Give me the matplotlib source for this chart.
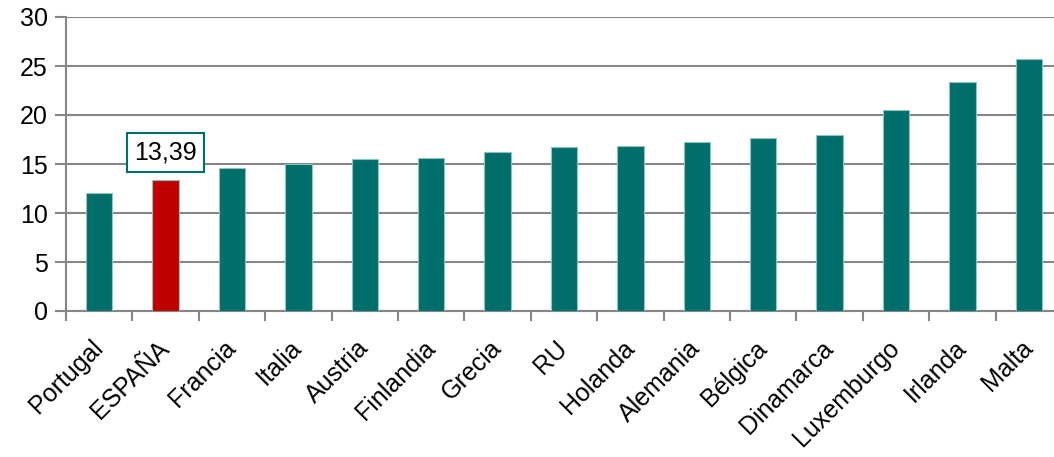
import numpy as np
import matplotlib.pyplot as plt

plt.rcParams['font.family'] = ['Liberation Sans', 'DejaVu Sans']

# Datos
paises = ['Portugal', 'ESPAÑA', 'Francia', 'Italia', 'Austria', 'Finlandia',
          'Grecia', 'RU', 'Holanda', 'Alemania', 'Bélgica', 'Dinamarca',
          'Luxemburgo', 'Irlanda', 'Malta']
valores = [12.0, 13.39, 14.6, 15.0, 15.55, 15.6, 16.2, 16.7, 16.8, 17.2,
           17.7, 18.0, 20.5, 23.4, 25.7]
destacado = 'ESPAÑA'

verde = '#006E6A'
rojo = '#C00000'
gris = '#868686'

fig = plt.figure(figsize=(10.54, 4.57), dpi=100)
ax = fig.add_axes([66/1054, 1 - 311/457, (1062 - 66)/1054, (311 - 17)/457])

x = np.arange(len(paises))
colores = [rojo if p == destacado else verde for p in paises]
ax.bar(x, valores, width=0.4, color=colores, edgecolor='#8fc3c0',
       linewidth=0.8, zorder=3)

ax.set_xlim(-0.5, len(paises) - 0.5)
ax.set_ylim(0, 30)
ax.set_yticks(range(0, 31, 5))
ax.yaxis.grid(True, color=gris, linewidth=1.5, zorder=0)

# ticks del eje x en los límites de categoría
ax.set_xticks(np.arange(-0.5, len(paises), 1.0))
ax.set_xticklabels([])
ax.tick_params(axis='x', which='major', length=7, width=1.5, color=gris)
ax.set_xticks(x, minor=True)
ax.set_xticklabels(paises, minor=True, rotation=45, ha='right',
                   va='center', rotation_mode='anchor', fontsize=18)
ax.tick_params(axis='x', which='minor', length=0, pad=24)
ax.tick_params(axis='y', length=8, width=1.5, color=gris, labelsize=18, pad=5)

for s in ['top', 'right']:
    ax.spines[s].set_visible(False)
for s in ['left', 'bottom']:
    ax.spines[s].set_color(gris)
    ax.spines[s].set_linewidth(1.5)

i = paises.index(destacado)
ax.annotate(f'{valores[i]:.2f}'.replace('.', ','), (x[i], valores[i]),
            xytext=(0, 19.5), textcoords='offset points', ha='center',
            va='center', fontsize=18,
            bbox=dict(boxstyle='square,pad=0.3', fc='white', ec=verde, lw=1.5))

plt.savefig('out.png', dpi=100)
